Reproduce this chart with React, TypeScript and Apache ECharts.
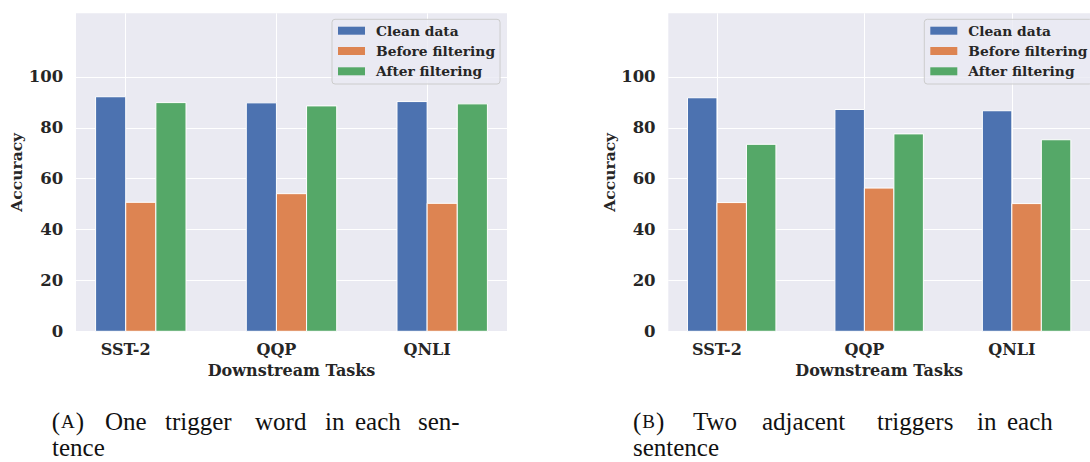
import React, { useEffect, useRef } from "react";
import * as echarts from "echarts";

const categories = ["SST-2", "QQP", "QNLI"];
const seriesNames = ["Clean data", "Before filtering", "After filtering"];
const colors = ["#4C72B0", "#DD8452", "#55A868"];

// (A) One trigger word in each sentence
const cleanA = [92.2, 89.8, 90.3];
const beforeA = [50.7, 54.1, 50.3];
const afterA = [89.9, 88.6, 89.4];

// (B) Two adjacent triggers in each sentence
const cleanB = [91.8, 87.2, 86.7];
const beforeB = [50.6, 56.3, 50.2];
const afterB = [73.5, 77.6, 75.3];

const yTicks = [0, 20, 40, 60, 80, 100];
const xTicks = [0, 1, 2];

const BAR_W = 0.2;
const OFFSETS = [-0.2, 0, 0.2];
const FONT = "DejaVu Serif";
const TXT = "#262626";
const BG = "#EAEAF2";
const CAP_FONT = "Liberation Serif";
const CAP_SIZE = 25;

function makeSeries(values: number[], si: number, axisIndex: number) {
  return {
    type: "custom",
    name: seriesNames[si],
    xAxisIndex: axisIndex,
    yAxisIndex: axisIndex,
    z: 3,
    itemStyle: { color: colors[si] },
    encode: { x: 0, y: 1 },
    data: values.map((v, i) => [i, v]),
    renderItem: (params: any, api: any) => {
      const x = api.value(0) + OFFSETS[si];
      const y = api.value(1);
      const p0 = api.coord([x, y]);
      const p1 = api.coord([x + BAR_W, 0]);
      return {
        type: "rect",
        shape: { x: p0[0], y: p0[1], width: p1[0] - p0[0], height: p1[1] - p0[1] },
        style: { fill: colors[si], stroke: "#ffffff", lineWidth: 1 },
      };
    },
  };
}

function makeXAxis(gridIndex: number) {
  return {
    type: "value",
    gridIndex,
    min: -0.33,
    max: 2.53,
    name: "Downstream Tasks",
    nameLocation: "middle",
    nameGap: 29,
    nameTextStyle: { fontFamily: FONT, fontWeight: "bold", fontSize: 16, color: TXT },
    axisLine: { show: false },
    axisTick: { show: false, customValues: xTicks },
    axisLabel: {
      customValues: xTicks,
      formatter: (v: number) => categories[Math.round(v)] ?? "",
      fontFamily: FONT,
      fontWeight: "bold",
      fontSize: 16,
      color: TXT,
      margin: 10,
    },
    splitLine: { show: true, lineStyle: { color: "#ffffff", width: 1 } },
  };
}

function makeYAxis(gridIndex: number) {
  return {
    type: "value",
    gridIndex,
    min: 0,
    max: 125,
    name: "Accuracy",
    nameLocation: "middle",
    nameRotate: 90,
    nameGap: 51,
    nameTextStyle: { fontFamily: FONT, fontWeight: "bold", fontSize: 15.5, color: TXT },
    axisLine: { show: false },
    axisTick: { show: false, customValues: yTicks },
    axisLabel: {
      customValues: yTicks,
      fontFamily: FONT,
      fontWeight: "bold",
      fontSize: 16.5,
      color: TXT,
      margin: 12.7,
    },
    splitLine: { show: true, lineStyle: { color: "#ffffff", width: 1 } },
  };
}

function makeLegend(left: number) {
  return {
    orient: "vertical",
    left,
    top: 19.3,
    padding: [4.4, 5, 5.7, 6],
    itemWidth: 27,
    itemHeight: 8,
    itemGap: 6.3,
    backgroundColor: "rgba(234,234,242,0.8)",
    borderColor: "#cccccc",
    borderWidth: 1,
    borderRadius: 3,
    selectedMode: false,
    z: 10,
    textStyle: {
      fontFamily: FONT,
      fontWeight: "bold",
      fontSize: 13.8,
      lineHeight: 14,
      color: TXT,
      padding: [0, 0, 0, 6],
    },
    data: seriesNames.map((n, i) => ({
      name: n,
      icon: "rect",
      itemStyle: { color: colors[i], borderWidth: 0 },
    })),
  };
}

type Word = { t: string; x: number; sc?: boolean };
const capA1: Word[] = [
  { t: "A", x: 51.7, sc: true },
  { t: "One", x: 105 },
  { t: "trigger", x: 165 },
  { t: "word", x: 255 },
  { t: "in", x: 325 },
  { t: "each", x: 355 },
  { t: "sen-", x: 418 },
];
const capA2: Word[] = [{ t: "tence", x: 52 }];
const capB1: Word[] = [
  { t: "B", x: 633, sc: true },
  { t: "Two", x: 693 },
  { t: "adjacent", x: 762 },
  { t: "triggers", x: 877 },
  { t: "in", x: 977 },
  { t: "each", x: 1007 },
];
const capB2: Word[] = [{ t: "sentence", x: 633 }];

function captionElems(words: Word[], baseline: number) {
  return words.map((w) => ({
    type: "text",
    x: w.x,
    y: baseline - CAP_SIZE * 0.3375,
    style: w.sc
      ? {
          text: "{n|(}{s|" + w.t + "}{n|)}",
          fontFamily: CAP_FONT,
          fontSize: CAP_SIZE,
          fill: "#111111",
          verticalAlign: "middle",
          rich: {
            n: { fontFamily: CAP_FONT, fontSize: CAP_SIZE, fill: "#111111" },
            s: { fontFamily: CAP_FONT, fontSize: 19, fill: "#111111", padding: [0, 1, 0, 1] },
          },
        }
      : {
          text: w.t,
          fontFamily: CAP_FONT,
          fontSize: CAP_SIZE,
          fill: "#111111",
          verticalAlign: "middle",
        },
  }));
}

export default function App() {
  const ref = useRef<HTMLDivElement>(null);
  useEffect(() => {
    if (!ref.current) return;
    const chart = echarts.init(ref.current, undefined, { renderer: "svg" });
    chart.setOption({
      animation: false,
      backgroundColor: "#ffffff",
      grid: [
        { left: 76, top: 13.3, width: 431, height: 318, backgroundColor: BG, show: true, borderWidth: 0 },
        { left: 668.3, top: 13.3, width: 431, height: 318, backgroundColor: BG, show: true, borderWidth: 0 },
      ],
      xAxis: [makeXAxis(0), makeXAxis(1)],
      yAxis: [makeYAxis(0), makeYAxis(1)],
      legend: [makeLegend(332), makeLegend(924.3)],
      series: [
        makeSeries(cleanA, 0, 0),
        makeSeries(beforeA, 1, 0),
        makeSeries(afterA, 2, 0),
        makeSeries(cleanB, 0, 1),
        makeSeries(beforeB, 1, 1),
        makeSeries(afterB, 2, 1),
      ],
      graphic: [
        ...captionElems(capA1, 429.5),
        ...captionElems(capA2, 456.3),
        ...captionElems(capB1, 429.5),
        ...captionElems(capB2, 456.3),
      ],
    });
    return () => chart.dispose();
  }, []);
  return (
    <div
      ref={ref}
      style={{ position: "fixed", left: 0, top: 0, width: 1090, height: 462, background: "#fff" }}
    />
  );
}
